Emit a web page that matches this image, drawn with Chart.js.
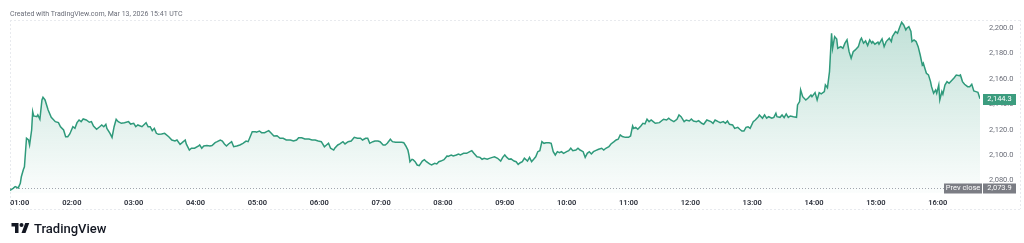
<!DOCTYPE html>
<html>
<head>
<meta charset="utf-8">
<script src="https://cdn.jsdelivr.net/npm/chart.js@4.4.1/dist/chart.umd.min.js"></script>
<style>
html,body{margin:0;padding:0;background:#fff;width:1024px;height:243px;overflow:hidden;font-family:Roboto,"Noto Sans",sans-serif;}
#hdr{position:absolute;left:10px;top:9px;font-size:7px;line-height:10px;color:#6a6d78;white-space:nowrap;}
#logo{position:absolute;left:11px;top:220px;height:16px;display:flex;align-items:center;}
#logo span{font-size:13px;font-weight:500;color:#131722;margin-left:4px;}
canvas{position:absolute;left:0;top:0;}
</style>
</head>
<body>
<canvas id="c" width="1024" height="243"></canvas>
<div id="hdr">Created with TradingView.com, Mar 13, 2026 15:41 UTC</div>
<div id="logo"><svg width="19" height="10" viewBox="0 0 36 20"><path d="M14 20H7V7H0V0h14v20Z" fill="#131722"/><circle cx="20" cy="4" r="4" fill="#131722"/><path d="M28 20h-8L27.5 0h8L28 20Z" fill="#131722"/></svg><span>TradingView</span></div>
<script>
const times = [
"01:00","01:03","01:05","01:08","01:10","01:11","01:13","01:14","01:16","01:18","01:19","01:21","01:22","01:23","01:26","01:27","01:29","01:31","01:32","01:34","01:37","01:40","01:44","01:47","01:49","01:52","01:54","01:56","01:58",
"02:01","02:03","02:05","02:07","02:09","02:11","02:14","02:17","02:19","02:21","02:24","02:27","02:29","02:31","02:33","02:34","02:37","02:39","02:41","02:43","02:45","02:48","02:51","02:55","02:57",
"03:00","03:02","03:04","03:08","03:12","03:14","03:16","03:18","03:20","03:22","03:24","03:27","03:30","03:34","03:37","03:40","03:42","03:45","03:47","03:50","03:51","03:54","03:56","03:59",
"04:03","04:04","04:06","04:08","04:11","04:14","04:16","04:19","04:21","04:24","04:26","04:28","04:30","04:32","04:35","04:37","04:40","04:43","04:46","04:49","04:51","04:53","04:55","04:58","04:59",
"05:02","05:04","05:07","05:09","05:11","05:13","05:16","05:19","05:22","05:25","05:28","05:32","05:35","05:38","05:40","05:43","05:46","05:50","05:53","05:56","05:59",
"06:02","06:05","06:07","06:09","06:11","06:14","06:15","06:18","06:20","06:23","06:25","06:28","06:31","06:34","06:37","06:40","06:42","06:45","06:47","06:49","06:52","06:54","06:57","06:59",
"07:02","07:04","07:06","07:09","07:11","07:14","07:17","07:20","07:22","07:24","07:26","07:27","07:28","07:30","07:31","07:33","07:35","07:37","07:40","07:42","07:44","07:47","07:49","07:52","07:54","07:56","07:58",
"08:01","08:04","08:05","08:08","08:10","08:13","08:15","08:17","08:20","08:23","08:26","08:28","08:30","08:33","08:36","08:38","08:40","08:43","08:45","08:48","08:50","08:53","08:56","08:58",
"09:00","09:02","09:04","09:06","09:09","09:11","09:13","09:15","09:17","09:19","09:22","09:24","09:26","09:28","09:30","09:32","09:34","09:36","09:38","09:40","09:43","09:45","09:47","09:49","09:51","09:53","09:55","09:57",
"10:00","10:02","10:04","10:06","10:09","10:11","10:13","10:16","10:18","10:20","10:22","10:24","10:26","10:28","10:31","10:34","10:36","10:38","10:41","10:43","10:46","10:48","10:50","10:52","10:54","10:57",
"11:00","11:02","11:04","11:05","11:07","11:09","11:12","11:14","11:16","11:18","11:20","11:22","11:24","11:26","11:30","11:34","11:37","11:39","11:41","11:44","11:47","11:49","11:51","11:54","11:56","11:59",
"12:01","12:03","12:06","12:08","12:11","12:13","12:16","12:20","12:22","12:24","12:27","12:29","12:32","12:34","12:36","12:38","12:41","12:43","12:46","12:48","12:50","12:52","12:54","12:56","12:58",
"13:01","13:03","13:06","13:07","13:10","13:12","13:14","13:16","13:19","13:21","13:23","13:24","13:27","13:29","13:31","13:33","13:35","13:37","13:40","13:43","13:44","13:46","13:47","13:49","13:52","13:54","13:57","13:58",
"14:01","14:03","14:05","14:07","14:10","14:11","14:13","14:15","14:17","14:18","14:20","14:22","14:23","14:26","14:28","14:30","14:32","14:34","14:36","14:38","14:40","14:43","14:45","14:46","14:48","14:50","14:52","14:54","14:56","14:57","14:59",
"15:02","15:03","15:06","15:08","15:10","15:13","15:15","15:16","15:19","15:21","15:23","15:25","15:27","15:29","15:30","15:32","15:34","15:35","15:37","15:39","15:41","15:43","15:45","15:46","15:48","15:49","15:51","15:53","15:54","15:56","15:58","15:59",
"16:01","16:02","16:04","16:05","16:07","16:09","16:11","16:14","16:16","16:18","16:21","16:22","16:24","16:26","16:29","16:31","16:33","16:35","16:37","16:39","16:41"
];
const prices = [
2072.0,2073.7,2075.0,2074.0,2077.6,2082.8,2088.6,2090.7,2113.2,2111.8,2107.9,2119.7,2134.2,2130.8,2130.2,2131.6,2128.2,2143.4,2145.5,2143.4,2135.5,2129.7,2126.3,2125.5,2122.3,2119.7,2114.4,2114.4,2116.6,
2122.3,2121.0,2125.5,2127.6,2126.3,2128.4,2127.6,2125.8,2126.3,2122.9,2120.3,2122.3,2123.7,2122.3,2124.2,2121.0,2117.1,2113.9,2122.3,2128.2,2126.3,2125.0,2125.5,2126.3,2124.4,
2125.0,2122.3,2123.7,2122.3,2125.5,2122.3,2122.3,2119.2,2121.0,2117.1,2116.3,2116.6,2117.1,2114.4,2111.8,2111.0,2111.8,2108.4,2109.7,2111.8,2108.7,2103.9,2105.3,2105.3,
2107.1,2107.9,2105.3,2107.1,2107.4,2107.1,2107.4,2109.7,2110.5,2111.8,2111.0,2108.7,2107.1,2108.7,2110.5,2106.5,2107.1,2107.9,2109.2,2111.0,2110.5,2114.4,2118.4,2118.4,2118.0,
2118.9,2117.6,2117.6,2118.4,2119.2,2117.6,2115.0,2115.2,2113.2,2113.2,2111.8,2111.8,2111.0,2111.8,2113.6,2113.6,2112.6,2112.6,2111.8,2111.8,2111.0,
2110.5,2106.5,2107.9,2109.2,2105.3,2103.9,2105.3,2107.9,2108.7,2110.5,2108.7,2110.5,2111.0,2113.9,2113.2,2113.2,2111.8,2113.2,2113.2,2109.2,2110.5,2111.0,2111.0,2110.5,
2107.9,2107.9,2109.2,2112.4,2110.5,2110.0,2110.0,2110.0,2109.7,2107.1,2103.9,2100.0,2094.7,2096.6,2096.3,2094.7,2092.1,2091.6,2095.2,2096.3,2094.7,2092.9,2092.1,2093.4,2092.9,2094.7,2095.2,
2096.3,2099.2,2098.9,2100.0,2099.2,2100.0,2100.8,2100.0,2101.3,2101.3,2102.6,2103.4,2101.3,2098.6,2098.1,2096.6,2097.3,2096.6,2097.3,2098.1,2098.6,2097.4,2095.2,2098.1,
2100.0,2098.1,2096.6,2096.9,2095.2,2094.7,2092.6,2093.9,2094.7,2097.4,2095.2,2098.1,2094.7,2096.6,2098.6,2102.6,2103.4,2110.5,2109.2,2109.7,2109.7,2109.2,2102.6,2100.0,2102.6,2101.8,2102.6,2101.3,
2102.6,2103.4,2105.3,2103.4,2103.9,2105.3,2103.9,2102.6,2098.1,2101.3,2102.6,2100.8,2102.6,2103.4,2104.5,2105.3,2103.9,2105.3,2106.5,2108.7,2110.5,2111.8,2112.4,2115.8,2114.5,2113.9,
2113.9,2115.0,2122.9,2121.0,2121.8,2120.3,2122.9,2125.0,2124.5,2128.2,2126.3,2127.6,2126.3,2125.0,2125.5,2128.2,2127.6,2129.0,2127.6,2126.3,2128.2,2131.6,2130.2,2126.3,2127.6,2126.8,
2128.4,2126.8,2126.3,2127.1,2125.0,2124.2,2127.6,2126.3,2125.0,2127.6,2126.3,2125.5,2126.3,2125.0,2126.8,2124.2,2123.7,2121.0,2121.8,2120.3,2118.9,2118.9,2121.8,2122.3,2121.0,
2126.3,2127.6,2130.2,2131.6,2129.0,2131.6,2129.0,2130.2,2129.0,2129.7,2132.9,2130.2,2129.7,2131.6,2129.5,2132.4,2129.7,2130.8,2130.2,2129.7,2139.5,2142.1,2151.3,2146.0,2143.4,2144.8,2147.3,2146.0,
2149.2,2143.4,2149.2,2148.2,2150.0,2155.3,2153.0,2165.8,2196.0,2184.2,2193.4,2191.5,2184.2,2185.5,2184.2,2188.2,2190.8,2181.5,2176.3,2181.5,2182.9,2185.5,2190.8,2192.1,2188.2,2190.0,2186.3,2190.8,2188.2,2189.5,2187.4,
2189.0,2187.4,2191.6,2185.5,2189.5,2192.1,2189.5,2193.4,2197.4,2196.1,2200.5,2204.7,2202.6,2198.7,2200.0,2201.3,2197.4,2189.5,2190.8,2189.5,2185.5,2178.9,2171.0,2172.4,2167.1,2164.5,2163.2,2157.9,2153.9,2148.7,2151.3,2148.7,
2155.2,2143.4,2150.0,2147.9,2155.2,2157.9,2156.6,2159.2,2161.0,2163.1,2162.6,2163.1,2157.9,2155.8,2153.9,2153.9,2155.8,2150.5,2150.0,2149.5,2144.3
];
const timeTicks = ["01:00","02:00","03:00","04:00","05:00","06:00","07:00","08:00","09:00","10:00","11:00","12:00","13:00","14:00","15:00","16:00"];
const priceTicks = [2080, 2100, 2120, 2140, 2160, 2180, 2200];
const prevClose = 2073.9;
const lastPrice = prices[prices.length - 1];

const toMin = s => { const p = s.split(':').map(Number); return p[0] * 60 + p[1]; };
const fmt = v => Number(v).toLocaleString('en-US', {minimumFractionDigits: 1, maximumFractionDigits: 1});
const points = times.map((t, i) => ({x: toMin(t), y: prices[i]}));

const decor = {
  id: 'decor',
  beforeDatasetsDraw(chart) {
    const c = chart.ctx, a = chart.chartArea, ys = chart.scales.y;
    c.save();
    c.strokeStyle = '#e8eaee';
    c.lineWidth = 1;
    c.setLineDash([2, 2]);
    c.beginPath();
    c.moveTo(10, 20.5); c.lineTo(1020, 20.5);
    c.moveTo(10, 209.5); c.lineTo(1020, 209.5);
    c.moveTo(10.5, 20); c.lineTo(10.5, 209);
    c.moveTo(1020.5, 20); c.lineTo(1020.5, 209);
    c.stroke();
    const py = Math.round(ys.getPixelForValue(prevClose)) + 0.5;
    c.strokeStyle = '#a3a6af';
    c.setLineDash([1, 2]);
    c.beginPath(); c.moveTo(a.left, py); c.lineTo(a.right, py); c.stroke();
    c.restore();
  },
  afterDraw(chart) {
    const c = chart.ctx, a = chart.chartArea, ys = chart.scales.y;
    c.save();
    c.font = '7.5px Roboto';
    c.textAlign = 'center';
    c.textBaseline = 'middle';
    const ly = ys.getPixelForValue(lastPrice);
    c.fillStyle = '#3c9c7e';
    c.fillRect(a.right + 3, Math.round(ly) - 5, 33, 11);
    c.fillStyle = '#ffffff';
    c.fillText(fmt(lastPrice), a.right + 19.5, Math.round(ly) + 0.5);
    const py = ys.getPixelForValue(prevClose);
    c.fillStyle = '#7b7d84';
    c.fillRect(a.right - 36, Math.round(py) - 4.5, 38, 10);
    c.fillRect(a.right + 3, Math.round(py) - 4.5, 33, 10);
    c.fillStyle = '#ffffff';
    c.fillText('Prev close', a.right - 17, Math.round(py) + 0.5);
    c.fillText(fmt(prevClose), a.right + 19.5, Math.round(py) + 0.5);
    c.restore();
  }
};

new Chart(document.getElementById('c').getContext('2d'), {
  type: 'line',
  data: {
    datasets: [{
      data: points,
      borderColor: '#2f9a7b',
      borderWidth: 1.5,
      pointRadius: 0,
      tension: 0,
      fill: 'start',
      backgroundColor: (ctx) => {
        const chart = ctx.chart, a = chart.chartArea;
        if (!a) return 'rgba(47,154,123,0.15)';
        const g = chart.ctx.createLinearGradient(0, a.top, 0, a.bottom);
        g.addColorStop(0, 'rgba(47,154,123,0.30)');
        g.addColorStop(1, 'rgba(47,154,123,0.02)');
        return g;
      }
    }]
  },
  options: {
    responsive: false,
    animation: false,
    devicePixelRatio: 1,
    layout: {padding: {top: 20, left: 10, right: 0, bottom: 0}},
    plugins: {legend: {display: false}, tooltip: {enabled: false}},
    scales: {
      x: {
        type: 'linear',
        min: toMin(times[0]),
        max: toMin(times[times.length - 1]),
        grid: {display: false, drawTicks: false},
        border: {display: false},
        afterBuildTicks: s => { s.ticks = timeTicks.map(t => ({value: toMin(t)})).concat([{value: s.max}]); },
        afterFit: s => { s.height = 50; },
        ticks: {
          autoSkip: false, maxRotation: 0, minRotation: 0, align: 'inner', padding: 6,
          color: '#2a2e39', font: {family: 'Roboto', size: 7.5, weight: '600'},
          callback: (v, i) => (i < timeTicks.length ? timeTicks[i] : '')
        }
      },
      y: {
        position: 'right',
        min: 2070,
        max: 2206.5,
        grid: {display: false, drawTicks: false},
        border: {display: false},
        afterBuildTicks: s => { s.ticks = priceTicks.map(v => ({value: v})); },
        afterFit: s => { s.width = 44; },
        ticks: {
          padding: 9, color: '#6a6d78', font: {family: 'Roboto', size: 7.5},
          callback: v => fmt(v)
        }
      }
    }
  },
  plugins: [decor]
});
</script>
</body>
</html>
